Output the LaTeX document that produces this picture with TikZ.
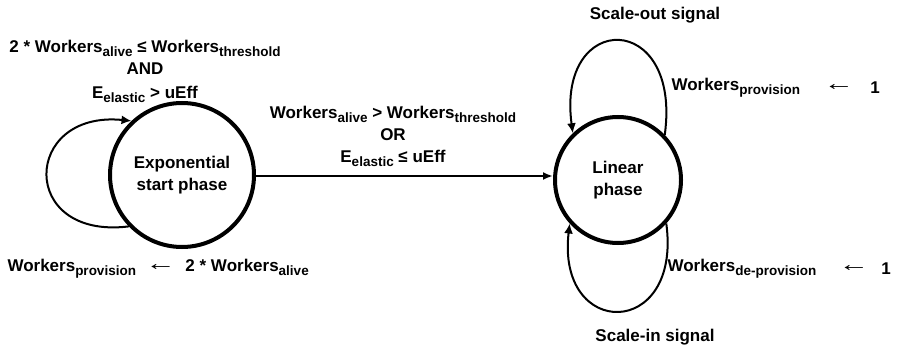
\documentclass[tikz,border=0pt]{standalone}
\usepackage{fontspec}
\setmainfont{Liberation Sans}
\usetikzlibrary{arrows.meta}

\newcommand{\sub}[1]{\raisebox{-0.45ex}{\fontsize{13.5}{14}\selectfont #1}}
\newcommand{\getsarrow}{\raisebox{0.1ex}{\scalebox{1.8}[1.25]{←}}}

\begin{document}
\begin{tikzpicture}[x=1pt, y=-1pt,
    font=\fontsize{17}{22}\selectfont\bfseries,
    state/.style={circle, draw, line width=4pt, inner sep=0pt, align=center},
    selfloop/.style={line width=2pt, -{Latex[length=10pt, width=9pt]}},
    guard/.style={align=center},
    tip/.style={-{Latex[length=10pt, width=8pt]}, line width=2pt}]
    \useasboundingbox (0,0) rectangle (897,350);

    % the two phases
    \node[state, minimum size=144pt] (expo) at (182,175) {Exponential\\start phase};
    \node[state, minimum size=126pt] (linear) at (618,180) {Linear\\phase};

    % transition between the phases
    \draw[tip] (expo.east |- 0,176) -- (linear.west |- 0,176);
    \node[guard] (switch) at (393,136)
        {Workers\sub{alive} > Workers\sub{threshold}\\ OR\\ E\sub{elastic} ≤ uEff};

    % staying in the start phase
    \draw[selfloop] (expo.224) .. controls (18,240) and (22,110) .. (expo.133);
    \node[guard] (stay) at (145,71)
        {2 * Workers\sub{alive} ≤ Workers\sub{threshold}\\ AND\\[2pt] E\sub{elastic} > uEff};
    \node[anchor=west] (growrule) at (4,269)
        {Workers\sub{provision} \ \getsarrow{} \ 2 * Workers\sub{alive}};

    % scaling inside the linear phase
    \draw[selfloop] (linear.44) .. controls (682,10) and (556,10) .. (linear.134);
    \draw[selfloop] (linear.318) .. controls (682,340) and (556,340) .. (linear.222);
    \node (scaleout) at (655,15) {Scale-out signal};
    \node (scalein) at (655,337) {Scale-in signal};
    \node[anchor=west] (outrule) at (668,88) {Workers\sub{provision}};
    \node[anchor=west] (inrule) at (664,269) {Workers\sub{de-provision}};
    \node (outarrow) at (839,88) {\getsarrow};
    \node (inarrow) at (854,269) {\getsarrow};
    \node (outone) at (875,88) {1};
    \node (inone) at (886,269) {1};
\end{tikzpicture}
\end{document}
